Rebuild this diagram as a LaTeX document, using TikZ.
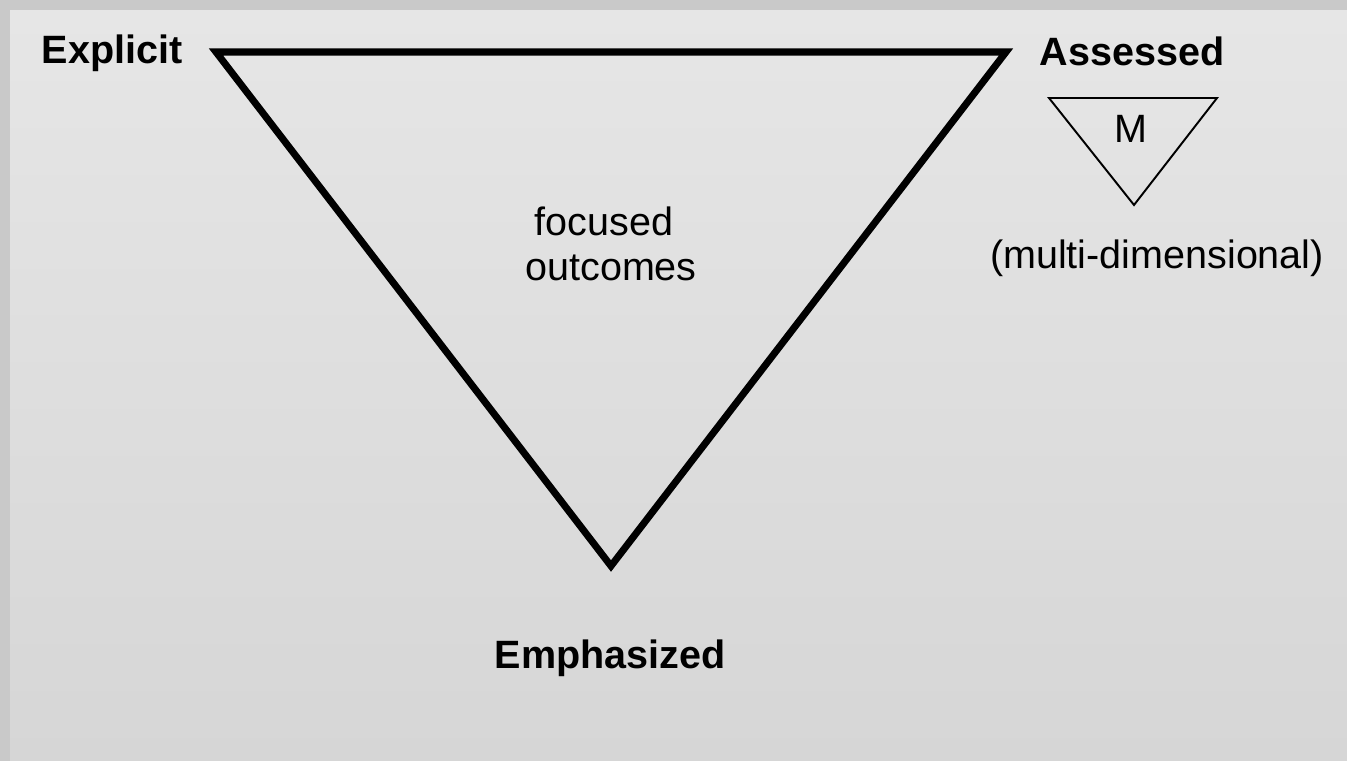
\documentclass[tikz,border=0pt]{standalone}
\usepackage{fontspec}
\setmainfont{Liberation Sans}
\usetikzlibrary{positioning}

\definecolor{panelTop}{HTML}{E6E6E6}
\definecolor{panelBottom}{HTML}{D6D6D6}
\definecolor{shadowGray}{HTML}{C9C9C9}

\begin{document}
\begin{tikzpicture}[
            x=0.02cm, y=-0.02cm,
            corner/.style={font=\fontsize{22.5}{27}\selectfont\bfseries, anchor=base, inner sep=0pt},
            plain/.style={font=\fontsize{22.5}{27}\selectfont, anchor=base, inner sep=0pt},
            bigtri/.style={line width=4pt, line join=miter},
            smalltri/.style={line width=1.1pt, line join=miter}
        ]
            % background panel
            \fill[shadowGray] (0,0) rectangle (1347,761);
            \shade[top color=panelTop, bottom color=panelBottom] (10,10) rectangle (1347,761);
            \useasboundingbox (0,0) rectangle (1347,761);

            % main triangle
            \coordinate (ExplicitCorner) at (216,52);
            \coordinate (AssessedCorner) at (1006,52);
            \coordinate (EmphCorner) at (611,566);
            \draw[bigtri] (ExplicitCorner) -- (AssessedCorner) -- (EmphCorner) -- cycle;

            \node[corner] (Explicit_Title) at (112,63) {Explicit};
            \node[corner] (Assessed_Title) at (1132,65) {Assessed};
            \node[corner] (Emph_Title) at (610,668) {Emphasized};
            \node[plain] (focused) at (604,235) {focused};
            \node[plain] (outcomes) at (611,280) {outcomes};

            % small triangle
            \coordinate (mLeft) at (1049,98);
            \coordinate (mRight) at (1217,98);
            \coordinate (mBottom) at (1134,205);
            \draw[smalltri] (mLeft) -- (mRight) -- (mBottom) -- cycle;
            \node[plain] (M) at (1131,142) {M};
            \node[plain] (multi) at (1157,268) {(multi-dimensional)};
        \end{tikzpicture}
\end{document}
